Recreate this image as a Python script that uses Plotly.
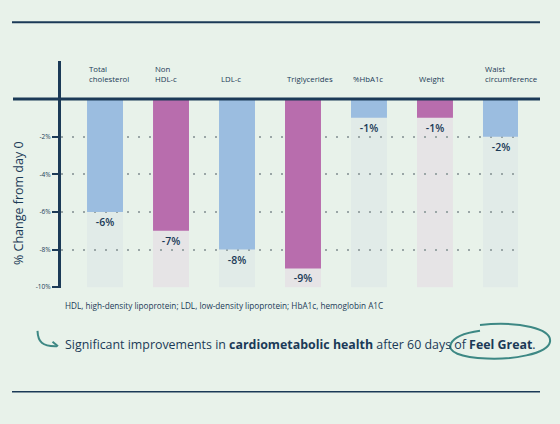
import plotly.graph_objects as go

# data
categories = ["Total<br>cholesterol", "Non<br>HDL-c", "LDL-c", "Triglycerides",
              "%HbA1c", "Weight", "Waist<br>circumference"]
changes = [-6, -7, -8, -9, -1, -1, -2]
value_labels = ["-6%", "-7%", "-8%", "-9%", "-1%", "-1%", "-2%"]
track_floor = [-10] * len(categories)
y_ticks = [-2, -4, -6, -8, -10]
y_tick_labels = ["-2%", "-4%", "-6%", "-8%", "-10%"]

NAVY = "#1b3a57"
TEAL = "#3d8884"
BG = "#e8f2ea"
BLUE, PINK = "#9bbde0", "#b86dad"
BLUE_TRACK, PINK_TRACK = "#e1ebe8", "#e6e4e6"
bar_colors = [BLUE, PINK, BLUE, PINK, BLUE, PINK, BLUE]
track_colors = [BLUE_TRACK if c == BLUE else PINK_TRACK for c in bar_colors]

W, H = 560, 424
FONT = "'Open Sans', 'Noto Sans', sans-serif"
BAR_W = 0.545


def px(x):
    return x / W


def py(y):
    return 1 - y / H


def path(cmds):
    # cmds: list of (op, [x, y, x, y ...]) in pixels -> paper path
    out = []
    for op, pts in cmds:
        xy = ["%.5f,%.5f" % (px(pts[i]), py(pts[i + 1])) for i in range(0, len(pts), 2)]
        out.append(op + " " + " ".join(xy))
    return " ".join(out)


xs = list(range(len(categories)))

fig = go.Figure()

fig.add_trace(go.Bar(
    x=xs, y=changes, width=BAR_W,
    marker=dict(color=bar_colors, line=dict(width=0)),
    text=value_labels, textposition="outside", constraintext="none",
    textfont=dict(size=10.5, color=NAVY, family=FONT, weight=600),
    cliponaxis=False, hoverinfo="skip",
))

shapes = []
# light tracks behind each bar, under the dotted grid
for x, lo, col in zip(xs, track_floor, track_colors):
    shapes.append(dict(type="rect", xref="x", yref="y", layer="below",
                       x0=x - BAR_W / 2, x1=x + BAR_W / 2, y0=0, y1=lo,
                       fillcolor=col, line=dict(width=0)))

# zero line extends left past the axis
shapes.append(dict(type="line", xref="paper", yref="y", x0=px(13), x1=px(540),
                   y0=0, y1=0, line=dict(color=NAVY, width=3)))
# frame lines top and bottom
shapes.append(dict(type="line", xref="paper", yref="paper", x0=px(12), x1=px(540),
                   y0=py(22.5), y1=py(22.5), line=dict(color=NAVY, width=2)))
shapes.append(dict(type="line", xref="paper", yref="paper", x0=px(12), x1=px(540),
                   y0=py(395.5), y1=py(395.5), line=dict(color=NAVY, width=1.5)))
# arrow
shapes.append(dict(type="path", xref="paper", yref="paper",
                   path=path([("M", [37.5, 334]), ("C", [38, 345, 42, 350, 57, 349.5])]),
                   line=dict(color=TEAL, width=2)))
shapes.append(dict(type="path", xref="paper", yref="paper",
                   path=path([("M", [52.5, 345]), ("L", [58, 349.5, 52.5, 354])]),
                   line=dict(color=TEAL, width=2)))
# hand-drawn loop around "of Feel Great."
shapes.append(dict(type="path", xref="paper", yref="paper",
                   path=path([("M", [480, 328]),
                              ("C", [520, 324, 552, 332, 550, 345]),
                              ("C", [548, 358, 510, 363, 487, 362]),
                              ("C", [460, 361, 447, 355, 451, 347]),
                              ("C", [454, 340, 466, 336, 480, 334])]),
                   line=dict(color=TEAL, width=2)))

annotations = []
for x, name in zip(xs, categories):
    annotations.append(dict(x=x - BAR_W / 2, y=0.7, xref="x", yref="y",
                            text=name, showarrow=False, xanchor="left", yanchor="bottom",
                            align="left", font=dict(size=7.8, color=NAVY, family=FONT)))

annotations.append(dict(x=px(18), y=py(205), xref="paper", yref="paper",
                        xanchor="center", yanchor="middle",
                        text="% Change from day 0", textangle=-90, showarrow=False,
                        font=dict(size=12.5, color=NAVY, family=FONT)))
annotations.append(dict(x=px(63), y=py(308), xref="paper", yref="paper",
                        xanchor="left", yanchor="middle",
                        text="HDL, high-density lipoprotein; LDL, low-density lipoprotein; "
                             "HbA1c, hemoglobin A1C",
                        showarrow=False, font=dict(size=8.2, color=NAVY, family=FONT)))
annotations.append(dict(x=px(63), y=py(348), xref="paper", yref="paper",
                        xanchor="left", yanchor="middle",
                        text="Significant improvements in <b>cardiometabolic health</b> "
                             "after 60 days of <b>Feel Great</b>.",
                        showarrow=False, font=dict(size=12.4, color=NAVY, family=FONT)))

fig.update_layout(
    width=W, height=H, margin=dict(l=0, r=0, t=0, b=0),
    paper_bgcolor=BG, plot_bgcolor=BG,
    showlegend=False, barmode="overlay",
    shapes=shapes, annotations=annotations,
    xaxis=dict(domain=[px(61), px(518)], range=[-0.667, 6.258],
               showgrid=False, zeroline=False, showticklabels=False, fixedrange=True),
    yaxis=dict(domain=[py(290.5), py(62)], range=[-10.03, 2],
               tickvals=y_ticks, ticktext=y_tick_labels,
               tickfont=dict(size=6.5, color=NAVY, family=FONT),
               ticks="outside", ticklen=6, tickwidth=1.5, tickcolor=NAVY,
               showline=True, linecolor=NAVY, linewidth=3,
               showgrid=True, gridcolor="#9aa6a6", gridwidth=2, griddash="2px,9px",
               zeroline=False, fixedrange=True),
)

fig.write_html("out.html", config={"displayModeBar": False},
               post_script="document.body.style.margin='0';")
